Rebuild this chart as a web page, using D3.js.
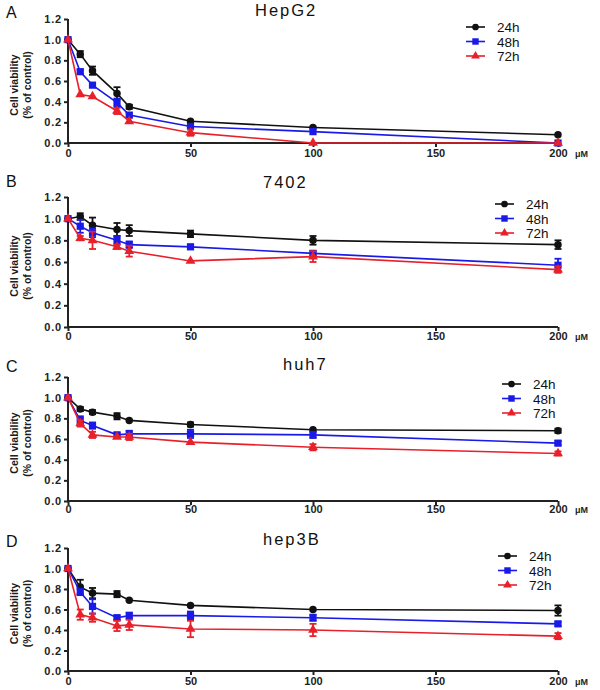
<!DOCTYPE html>
<html><head><meta charset="utf-8">
<script src="https://cdn.jsdelivr.net/npm/d3@7"></script>
<style>
body{margin:0;background:#fff;}
svg{display:block;font-family:"Liberation Sans",Arial,sans-serif;}
</style></head>
<body><svg id="chart" width="600" height="690"></svg>
<script>
const doses = [0, 5, 10, 20, 25, 50, 100, 200];
const seriesNames = ["24h", "48h", "72h"];
const xTicks = [0, 50, 100, 150, 200];
const yTicks = [0.0, 0.2, 0.4, 0.6, 0.8, 1.0, 1.2];
const panelLetters = ["A", "B", "C", "D"];
const cellLines = ["HepG2", "7402", "huh7", "hep3B"];

const hepg2_24 = [1.00, 0.86, 0.70, 0.48, 0.35, 0.21, 0.15, 0.08];
const hepg2_24_err = [0.01, 0.03, 0.04, 0.06, 0.02, 0.01, 0.01, 0.01];
const hepg2_48 = [1.00, 0.69, 0.56, 0.39, 0.27, 0.16, 0.11, 0.00];
const hepg2_48_err = [0.01, 0.02, 0.02, 0.04, 0.02, 0.02, 0.01, 0.01];
const hepg2_72 = [1.00, 0.47, 0.45, 0.31, 0.21, 0.10, 0.00, 0.00];
const hepg2_72_err = [0.01, 0.01, 0.01, 0.03, 0.01, 0.03, 0.01, 0.01];

const l7402_24 = [1.00, 1.02, 0.94, 0.90, 0.89, 0.86, 0.80, 0.76];
const l7402_24_err = [0.01, 0.03, 0.07, 0.06, 0.05, 0.03, 0.04, 0.04];
const l7402_48 = [1.00, 0.93, 0.87, 0.80, 0.76, 0.74, 0.68, 0.57];
const l7402_48_err = [0.01, 0.06, 0.04, 0.04, 0.03, 0.02, 0.02, 0.06];
const l7402_72 = [1.00, 0.82, 0.80, 0.74, 0.70, 0.61, 0.65, 0.53];
const l7402_72_err = [0.01, 0.02, 0.08, 0.02, 0.05, 0.01, 0.05, 0.03];

const huh7_24 = [1.00, 0.89, 0.86, 0.82, 0.78, 0.74, 0.69, 0.68];
const huh7_24_err = [0.01, 0.02, 0.02, 0.03, 0.01, 0.02, 0.01, 0.02];
const huh7_48 = [1.00, 0.78, 0.73, 0.64, 0.65, 0.65, 0.64, 0.56];
const huh7_48_err = [0.01, 0.04, 0.03, 0.02, 0.03, 0.04, 0.03, 0.02];
const huh7_72 = [1.00, 0.75, 0.64, 0.62, 0.62, 0.57, 0.52, 0.46];
const huh7_72_err = [0.01, 0.03, 0.03, 0.01, 0.03, 0.01, 0.03, 0.02];

const hep3b_24 = [1.00, 0.82, 0.76, 0.75, 0.69, 0.64, 0.60, 0.59];
const hep3b_24_err = [0.01, 0.07, 0.05, 0.03, 0.01, 0.01, 0.01, 0.05];
const hep3b_48 = [1.00, 0.77, 0.63, 0.52, 0.54, 0.54, 0.52, 0.46];
const hep3b_48_err = [0.01, 0.03, 0.07, 0.02, 0.03, 0.04, 0.03, 0.02];
const hep3b_72 = [1.00, 0.55, 0.52, 0.44, 0.45, 0.41, 0.40, 0.34];
const hep3b_72_err = [0.01, 0.05, 0.04, 0.05, 0.05, 0.08, 0.06, 0.03];

const panelData = [
  [[hepg2_24, hepg2_24_err], [hepg2_48, hepg2_48_err], [hepg2_72, hepg2_72_err]],
  [[l7402_24, l7402_24_err], [l7402_48, l7402_48_err], [l7402_72, l7402_72_err]],
  [[huh7_24, huh7_24_err], [huh7_48, huh7_48_err], [huh7_72, huh7_72_err]],
  [[hep3b_24, hep3b_24_err], [hep3b_48, hep3b_48_err], [hep3b_72, hep3b_72_err]]
];

// layout (pixels)
const layout = [
  {top: 19, bottom: 143, letterY: 18, titleX: 255, titleY: 16, legX: 466, legY: 27, xLabOff: 14},
  {top: 197, bottom: 327, letterY: 187, titleX: 263, titleY: 188, legX: 495, legY: 204, xLabOff: 13},
  {top: 377, bottom: 501, letterY: 372, titleX: 283, titleY: 370, legX: 502, legY: 384, xLabOff: 12},
  {top: 548, bottom: 671, letterY: 547, titleX: 263, titleY: 545, legX: 498, legY: 556, xLabOff: 14}
];
const colors = ["#111111", "#1a1ae8", "#e8202a"];
const symbols = [d3.symbolCircle, d3.symbolSquare, d3.symbolTriangle];
const symSizes = [44, 52, 42];

const svg = d3.select("#chart");
const x = d3.scaleLinear().domain([0, 200]).range([68, 558]);

panelData.forEach((pd, pi) => {
  const L = layout[pi];
  const y = d3.scaleLinear().domain([0, 1.2]).range([L.bottom, L.top]);
  const g = svg.append("g");

  g.append("text").attr("x", 6).attr("y", L.letterY).attr("font-size", 16)
    .attr("fill", "#111").text(panelLetters[pi]);
  g.append("text").attr("x", L.titleX).attr("y", L.titleY).attr("font-size", 16.5)
    .attr("letter-spacing", "2px").attr("fill", "#111").text(cellLines[pi]);

  const ya = g.append("g").attr("transform", "translate(68,0)")
    .call(d3.axisLeft(y).tickValues(yTicks).tickFormat(d3.format(".1f")).tickSize(4).tickPadding(2));
  ya.selectAll("path,line").attr("stroke", "#222").attr("stroke-width", 2);
  ya.select("path").attr("d", `M0,${L.bottom}V${L.top}`);
  ya.selectAll("text").attr("font-size", 11).attr("font-weight", "bold")
    .attr("letter-spacing", "0.8px").attr("fill", "#222")
    .attr("font-family", "'Liberation Sans',Arial,sans-serif");

  const xa = g.append("g").attr("transform", `translate(0,${L.bottom})`)
    .call(d3.axisBottom(x).tickValues(xTicks).tickFormat(d3.format("d")).tickSize(4).tickPadding(3));
  xa.selectAll("path,line").attr("stroke", "#222").attr("stroke-width", 2);
  xa.select("path").attr("d", `M68,0H558`);
  xa.selectAll("text").attr("font-size", 11).attr("font-weight", "bold")
    .attr("fill", "#222").attr("dy", null).attr("y", L.xLabOff)
    .attr("font-family", "'Liberation Sans',Arial,sans-serif");
  g.append("text").attr("x", 575).attr("y", L.bottom + L.xLabOff).attr("font-size", 9)
    .attr("font-weight", "bold").attr("fill", "#222").text("μM");

  const ymid = (L.top + L.bottom) / 2 + 4;
  g.append("text").attr("transform", `translate(18,${ymid}) rotate(-90)`)
    .attr("text-anchor", "middle").attr("font-size", 10.5).attr("font-weight", "bold")
    .attr("fill", "#1a1a1a").text("Cell viability");
  g.append("text").attr("transform", `translate(31,${ymid}) rotate(-90)`)
    .attr("text-anchor", "middle").attr("font-size", 10.5).attr("font-weight", "bold")
    .attr("fill", "#1a1a1a").text("(% of control)");

  pd.forEach((s, si) => {
    const vals = s[0], errs = s[1];
    const pts = doses.map((d, i) => ({d, v: vals[i], e: errs[i]}));
    const c = colors[si];
    g.append("path").datum(pts)
      .attr("d", d3.line().x(p => x(p.d)).y(p => y(p.v)))
      .attr("fill", "none").attr("stroke", c).attr("stroke-width", 1.6);
    const eb = g.append("g").attr("stroke", c).attr("stroke-width", 1.8);
    pts.forEach(p => {
      if (p.e < 0.015) return;
      const y1 = y(p.v + p.e), y2 = y(p.v - p.e), cx = x(p.d);
      eb.append("line").attr("x1", cx).attr("x2", cx).attr("y1", y1).attr("y2", y2);
      eb.append("line").attr("x1", cx - 3.5).attr("x2", cx + 3.5).attr("y1", y1).attr("y2", y1);
      eb.append("line").attr("x1", cx - 3.5).attr("x2", cx + 3.5).attr("y1", y2).attr("y2", y2);
    });
    g.selectAll(null).data(pts).enter().append("path")
      .attr("d", d3.symbol().type(symbols[si]).size(symSizes[si]))
      .attr("transform", p => `translate(${x(p.d)},${y(p.v)})`)
      .attr("fill", c);

    const ly = L.legY + si * 14.5;
    g.append("line").attr("x1", L.legX).attr("x2", L.legX + 19).attr("y1", ly).attr("y2", ly)
      .attr("stroke", c).attr("stroke-width", 1.6);
    g.append("path").attr("d", d3.symbol().type(symbols[si]).size(symSizes[si] * 0.8))
      .attr("transform", `translate(${L.legX + 9.5},${ly})`).attr("fill", c);
    g.append("text").attr("x", L.legX + 31).attr("y", ly + 5).attr("font-size", 13.5)
      .attr("fill", "#111").text(seriesNames[si]);
  });
});
</script></body></html>
